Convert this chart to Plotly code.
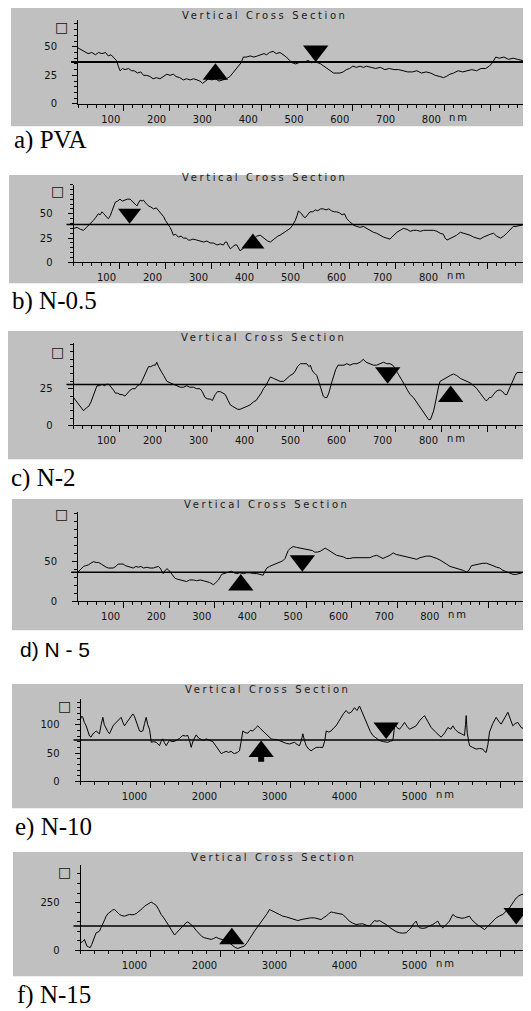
import plotly.graph_objects as go

# target picture size and browser body margin
W, H = 531, 1011
OFF = 8
FW, FH = W - OFF, H - OFF

# ---------------- data (nm, height nm) ----------------
pva = [(0,49),(8,47),(15,46),(22,44),(30,45),(38,43),(45,45),(52,44),(60,45),(66,42),(72,43),(78,40),(84,38),
       (88,33),(92,29),(97,31),(103,30),(110,31),(117,29),(123,29),(130,27),(137,28),(143,25),(150,25),(157,24),
       (164,22),(171,23),(179,22),(186,24),(194,26),(201,25),(208,26),(214,24),(222,23),(230,21),(237,22),(245,21),
       (252,22),(260,21),(266,20),(272,18),(278,20),(285,22),(292,21),(300,22),(308,20),(316,21),(324,22),(332,24),
       (338,27),(344,30),(350,32),(356,36),(361,41),(368,41),(376,42),(384,41),(392,42),(400,43),(406,44),(412,43),
       (418,45),(426,46),(433,44),(441,45),(448,43),(455,41),(462,38),(468,36),(475,35),(482,36),(489,37),(496,37),
       (503,38),(510,36),(517,37),(524,36),(530,35),(537,33),(544,31),(551,29),(558,27),(565,27),(572,27),(579,28),
       (586,30),(593,31),(600,33),(608,32),(616,33),(623,32),(630,33),(640,32),(650,31),(660,32),(670,30),(680,31),
       (690,30),(700,30),(710,29),(720,28),(730,28),(740,29),(750,27),(760,28),(770,27),(780,25),(790,24),(798,23),
       (804,24),(812,26),(820,27),(830,29),(840,28),(850,29),(860,30),(870,29),(880,31),(890,31),(898,33),(905,36),
       (912,41),(920,40),(930,41),(940,39),(950,40),(960,39),(970,38),(980,40),(990,39)]

n05 = [(0,35),(8,36),(15,34),(22,33),(28,36),(33,38),(38,40),(43,43),(48,46),(54,50),(58,49),(62,52),(66,50),
       (69,48),(73,46),(76,45),(80,48),(83,52),(87,57),(91,62),(96,63),(101,65),(106,63),(112,64),(117,65),(123,65),
       (127,63),(130,62),(134,60),(138,58),(141,61),(145,64),(149,63),(152,64),(157,61),(163,58),(168,57),(174,55),
       (180,56),(185,53),(190,50),(196,47),(200,43),(203,41),(207,38),(210,36),(214,32),(217,28),(222,29),(228,26),
       (234,27),(239,25),(245,25),(250,23),(254,23),(260,24),(268,23),(275,22),(283,21),(290,22),(297,20),(304,20),
       (312,18),(319,19),(326,18),(330,21),(333,21),(337,17),(341,14),(346,16),(351,18),(355,18),(358,15),(362,12),
       (368,14),(373,16),(377,16),(384,20),(391,24),(398,27),(406,28),(411,26),(417,24),(422,22),(428,21),(433,23),
       (438,25),(444,27),(449,28),(455,30),(460,31),(466,33),(471,35),(476,38),(482,43),(486,48),(489,53),(493,51),
       (496,50),(500,47),(504,46),(509,49),(514,52),(520,52),(526,54),(531,53),(537,55),(543,55),(549,54),(555,55),
       (561,53),(567,52),(572,52),(578,51),(584,49),(589,50),(594,45),(600,42),(605,40),(610,38),(616,37),(623,36),
       (630,37),(637,35),(645,33),(652,31),(659,30),(666,28),(674,26),(681,25),(688,24),(692,26),(696,28),(703,31),
       (710,33),(717,35),(725,34),(732,32),(739,33),(746,33),(754,32),(761,33),(769,33),(776,33),(783,33),(790,32),
       (797,30),(804,29),(808,25),(812,23),(817,24),(822,25),(826,26),(833,28),(841,31),(848,30),(855,29),(862,28),
       (870,26),(877,25),(884,24),(891,26),(899,28),(906,29),(913,30),(920,27),(928,25),(935,27),(942,30),(950,34),
       (956,37),(962,37),(971,38),(980,39),(990,39)]

n2 = [(0,19),(5,17),(11,14),(16,12),(22,10),(28,12),(33,13),(38,16),(43,20),(47,24),(51,27),(56,27),(62,28),(67,27),
      (72,28),(77,28),(83,26),(87,24),(91,22),(96,22),(101,21),(106,21),(112,20),(117,22),(123,24),(128,25),(134,25),
      (139,27),(145,28),(150,31),(156,35),(160,38),(163,40),(168,40),(174,41),(178,41),(181,43),(185,40),(188,38),
      (192,36),(196,34),(200,32),(203,30),(210,29),(217,28),(224,27),(232,26),(239,26),(246,27),(253,26),(261,26),
      (268,25),(275,25),(280,23),(286,19),(292,18),(297,18),(302,17),(308,21),(313,23),(319,23),(325,22),(330,21),
      (336,17),(341,14),(346,13),(351,12),(357,11),(362,11),(368,12),(377,13),(384,14),(391,16),(397,17),(402,19),
      (408,22),(413,25),(418,27),(423,30),(428,33),(435,32),(442,31),(449,30),(457,30),(464,32),(471,34),(477,35),
      (482,37),(487,40),(493,42),(500,42),(507,42),(512,40),(515,41),(518,38),(522,36),(526,35),(529,34),(533,30),
      (536,27),(540,22),(543,20),(547,19),(551,19),(555,22),(558,26),(562,30),(565,33),(570,38),(575,41),(582,41),
      (588,41),(594,42),(601,41),(608,42),(616,42),(623,43),(630,45),(636,43),(645,42),(652,41),(659,41),(666,42),
      (674,43),(681,42),(688,42),(694,41),(699,39),(704,36),(710,33),(716,30),(721,27),(726,24),(732,21),(739,19),
      (746,16),(752,13),(757,11),(762,9),(768,6),(772,4),(776,4),(780,7),(783,10),(787,16),(790,22),(794,27),
      (797,30),(802,31),(808,32),(812,33),(819,34),(826,35),(833,34),(841,32),(848,31),(855,30),(862,29),(870,27),
      (877,25),(884,22),(891,19),(896,17),(899,17),(904,19),(908,19),(913,21),(918,23),(923,24),(928,24),(933,23),
      (938,21),(942,21),(946,24),(950,27),(953,28),(957,31),(960,34),(964,36),(970,36),(976,36),(985,35),(990,34)]

n5 = [(0,37),(6,40),(12,44),(17,45),(23,46),(28,48),(34,50),(40,49),(45,49),(51,47),(56,45),(62,43),(67,42),(72,42),
      (77,42),(83,44),(88,47),(94,47),(99,47),(104,45),(110,44),(115,43),(121,42),(127,44),(132,43),(138,44),(144,42),
      (151,43),(158,42),(165,42),(170,43),(176,44),(180,42),(184,37),(187,35),(191,39),(195,41),(198,40),(202,37),
      (205,35),(209,31),(213,29),(218,28),(224,27),(231,26),(238,25),(245,27),(253,27),(260,26),(268,27),(275,26),
      (282,25),(288,24),(294,22),(297,21),(301,23),(305,25),(308,27),(312,31),(315,34),(320,35),(326,36),(331,37),
      (337,38),(342,36),(348,35),(355,36),(363,35),(370,36),(377,36),(385,35),(392,35),(399,34),(406,33),(410,38),
      (414,42),(420,44),(428,46),(435,47),(443,49),(449,51),(454,54),(458,59),(461,64),(466,67),(472,69),(479,68),
      (487,67),(494,66),(501,65),(508,64),(514,64),(519,62),(525,62),(531,63),(537,65),(542,67),(548,65),(553,63),
      (560,60),(567,58),(575,57),(582,56),(589,54),(596,54),(603,55),(611,55),(618,55),(625,55),(633,55),(640,55),
      (648,57),(655,58),(662,56),(669,54),(676,56),(684,58),(691,61),(698,59),(706,58),(713,57),(720,56),(728,55),
      (735,54),(743,53),(750,55),(757,56),(764,57),(772,57),(779,56),(787,54),(794,52),(801,50),(808,47),(816,44),
      (823,43),(830,42),(838,40),(845,39),(852,37),(857,39),(863,45),(870,46),(876,46),(881,47),(888,48),(896,48),
      (903,46),(910,45),(918,43),(925,42),(932,39),(940,37),(947,35),(954,34),(961,34),(967,35),(973,36),(980,37),
      (990,37)]

n10 = [(0,110),(20,115),(33,113),(55,104),(81,98),(105,88),(129,80),(150,78),(176,84),(200,86),(224,89),(250,86),
       (271,84),(295,100),(319,113),(340,100),(367,92),(390,88),(414,84),(440,92),(465,98),(486,101),(510,104),
       (533,107),(558,110),(581,113),(605,104),(629,98),(650,102),(676,107),(700,112),(725,116),(748,119),(770,115),
       (795,107),(820,98),(843,89),(865,88),(890,89),(915,102),(938,113),(960,100),(986,92),(1000,80),(1010,69),
       (1045,70),(1081,69),(1105,66),(1129,63),(1150,70),(1176,75),(1200,68),(1224,63),(1248,68),(1271,72),(1320,70),
       (1367,72),(1415,76),(1462,81),(1500,80),(1533,81),(1558,72),(1581,60),(1610,72),(1652,82),(1690,76),(1724,74),
       (1760,72),(1795,75),(1840,72),(1890,70),(1925,64),(1962,57),(1990,52),(2010,49),(2045,51),(2081,53),(2115,51),
       (2152,53),(2180,50),(2200,49),(2240,51),(2271,54),(2295,70),(2319,89),(2350,86),(2390,85),(2425,90),(2462,89),
       (2500,94),(2533,98),(2570,93),(2605,89),(2640,86),(2676,82),(2700,79),(2724,75),(2760,74),(2795,74),(2840,72),
       (2890,69),(2940,67),(2986,66),(3020,68),(3057,69),(3095,65),(3129,63),(3155,72),(3176,84),(3200,72),(3224,63),
       (3260,57),(3295,54),(3330,57),(3367,60),(3415,60),(3462,60),(3490,72),(3510,89),(3545,87),(3581,89),(3615,94),
       (3652,98),(3690,106),(3724,113),(3760,120),(3795,125),(3830,120),(3867,122),(3890,127),(3914,130),(3950,125),
       (3986,133),(4010,126),(4033,119),(4070,110),(4105,98),(4140,88),(4176,81),(4220,76),(4271,72),(4330,70),
       (4390,69),(4430,71),(4462,72),(4480,90),(4490,101),(4520,95),(4557,92),(4590,97),(4629,104),(4665,97),
       (4700,92),(4750,95),(4795,98),(4850,108),(4914,116),(4960,106),(5010,95),(5080,86),(5152,78),(5200,85),
       (5248,95),(5290,92),(5319,98),(5350,92),(5390,87),(5440,84),(5486,81),(5500,100),(5510,116),(5525,85),
       (5557,63),(5600,60),(5652,57),(5700,58),(5748,57),(5770,53),(5795,51),(5820,65),(5843,87),(5890,102),
       (5938,113),(5975,106),(6010,101),(6060,112),(6105,122),(6140,110),(6176,98),(6210,102),(6248,104),(6295,95),
       (6350,92),(6440,95)]

n15 = [(0,40),(30,45),(57,57),(75,40),(90,23),(115,18),(138,14),(160,30),(186,57),(205,75),(224,92),(250,96),
       (271,101),(295,120),(319,144),(345,160),(367,179),(400,195),(438,205),(462,212),(486,214),(520,200),(557,188),
       (590,182),(629,179),(665,184),(700,188),(735,186),(771,188),(805,195),(843,205),(880,218),(914,231),(960,243),
       (1010,253),(1045,245),(1081,236),(1115,215),(1152,188),(1190,170),(1224,153),(1260,130),(1295,109),(1320,92),
       (1343,80),(1380,95),(1414,109),(1450,122),(1486,135),(1510,145),(1533,149),(1570,140),(1605,127),(1650,105),
       (1700,83),(1735,72),(1771,66),(1820,60),(1867,57),(1900,62),(1938,69),(1975,62),(2010,57),(2045,54),(2081,52),
       (2130,38),(2176,23),(2210,15),(2248,10),(2290,14),(2343,23),(2380,40),(2414,57),(2450,80),(2486,101),
       (2520,118),(2557,135),(2595,152),(2629,170),(2665,192),(2700,214),(2750,205),(2795,196),(2840,188),(2890,179),
       (2940,175),(2986,170),(3045,163),(3105,156),(3165,162),(3224,167),(3285,170),(3343,170),(3390,165),(3438,161),
       (3475,172),(3510,179),(3545,192),(3581,201),(3615,198),(3652,196),(3700,192),(3748,188),(3795,170),(3843,153),
       (3890,142),(3938,135),(3985,138),(4033,139),(4080,132),(4129,127),(4165,142),(4200,156),(4235,152),(4271,156),
       (4320,145),(4367,135),(4415,120),(4462,109),(4510,98),(4557,92),(4600,90),(4652,92),(4690,105),(4724,118),
       (4760,140),(4795,153),(4820,130),(4843,118),(4890,115),(4938,118),(4985,128),(5033,135),(5070,145),(5105,153),
       (5140,130),(5176,118),(5225,135),(5271,153),(5300,175),(5319,188),(5365,175),(5414,170),(5450,168),(5486,170),
       (5520,176),(5557,179),(5590,160),(5629,144),(5665,135),(5700,127),(5735,118),(5771,109),(5810,122),(5843,135),
       (5890,155),(5938,170),(5985,180),(6033,188),(6080,205),(6129,222),(6175,248),(6224,274),(6260,285),(6295,292),
       (6440,300)]

profiles = [pva, n05, n2, n5, n10, n15]
ref_levels = [36.7, 39.0, 27.9, 36.6, 73.0, 127.0]
up_marks = [(300, 25.9), (390, 19.4), (820, 19.7), (357, 20.8), (2581, 52.6), (2162, 61.0)]
down_marks = [(519, 46.3), (122, 50.0), (683, 35.8), (492, 51.0), (4367, 94.0), (6224, 193.0)]
stem_marks = [None, None, None, None, (2581, 40.0), None]

y_major = [[0, 25, 50], [0, 25, 50], [0, 25], [0, 50], [0, 50, 100], [0, 250]]
y_minor = [5, 5, 5, 10, 10, 50]
x_major_small = [100, 200, 300, 400, 500, 600, 700, 800, 900]
x_text_small = ["100", "200", "300", "400", "500", "600", "700", "800", ""]
x_major_big = [1000, 2000, 3000, 4000, 5000, 6000]
x_text_big = ["1000", "2000", "3000", "4000", "5000", ""]
unit_marks = [67.4, 73.8, 50.0, 110.0, 133.0, 411.0]
panel_labels = ["a) PVA", "b) N-0.5", "c) N-2", "d) N - 5", "e) N-10", "f) N-15"]
title_text = "Vertical Cross Section"
unit_text = "\u25a1"
x_unit = "nm"

# ---------------- geometry (pixels in the 531x1011 picture) ----------------
geom = [
    dict(ax=78.0, pxnm=0.458, py0=104.5, pyu=1.15, ymax=73, box=(11, 7, 127), tx=265, ty=16, lx=12, ly=141, big=False),
    dict(ax=73.5, pxnm=0.460, py0=264.0, pyu=0.98, ymax=80, box=(9, 176, 285), tx=265, ty=179, lx=10, ly=303, big=False),
    dict(ax=73.5, pxnm=0.460, py0=428.0, pyu=1.48, ymax=56, box=(8, 333, 462), tx=264, ty=339, lx=9, ly=481, big=False),
    dict(ax=78.0, pxnm=0.456, py0=605.0, pyu=0.80, ymax=112, box=(12, 502, 634), tx=267, ty=507, lx=18, ly=653, big=False),
    dict(ax=80.5, pxnm=0.070, py0=786.0, pyu=0.57, ymax=146, box=(12, 688, 813), tx=268, ty=694, lx=13, ly=832, big=True),
    dict(ax=80.5, pxnm=0.070, py0=956.0, pyu=0.192, ymax=448, box=(13, 857, 982), tx=274, ty=863, lx=15, ly=1001, big=True),
]


def px_x(px):
    return max(0.0, (px - OFF) / FW)


def px_y(py):
    return min(1.0, 1 - (py - OFF) / FH)


TICKFONT = dict(family="DejaVu Sans, Verdana, sans-serif", size=10, color="#111111")
SERIF = "Liberation Serif, Times New Roman, serif"
SANS = "Liberation Sans, Arial, sans-serif"

fig = go.Figure()
shapes, annotations = [], []
layout_axes = {}

for i, g in enumerate(geom):
    n = i + 1
    xs = "" if n == 1 else str(n)
    xname, yname = "x" + xs, "y" + xs
    pts = profiles[i]
    fig.add_trace(go.Scatter(x=[p[0] for p in pts], y=[p[1] for p in pts], mode="lines",
                             line=dict(color="black", width=1), xaxis=xname, yaxis=yname,
                             showlegend=False, hoverinfo="skip"))
    msize = 20 if i == 1 else 22
    fig.add_trace(go.Scatter(x=[up_marks[i][0]], y=[up_marks[i][1]], mode="markers",
                             marker=dict(symbol="triangle-up", size=msize, color="black"),
                             xaxis=xname, yaxis=yname, showlegend=False, hoverinfo="skip"))
    fig.add_trace(go.Scatter(x=[down_marks[i][0]], y=[down_marks[i][1]], mode="markers",
                             marker=dict(symbol="triangle-down", size=msize, color="black"),
                             xaxis=xname, yaxis=yname, showlegend=False, hoverinfo="skip"))
    if stem_marks[i] is not None:
        fig.add_trace(go.Scatter(x=[stem_marks[i][0]], y=[stem_marks[i][1]], mode="markers",
                                 marker=dict(symbol="square", size=6, color="black"),
                                 xaxis=xname, yaxis=yname, showlegend=False, hoverinfo="skip"))

    xr = (W - g["ax"]) / g["pxnm"]
    ytop_px = g["py0"] - g["ymax"] * g["pyu"]
    if g["big"]:
        tv, tt, mdt, shift = x_major_big, x_text_big, 200, -16
        unit_at = 5000
    else:
        tv, tt, mdt, shift = x_major_small, x_text_small, 20, -13
        unit_at = 800
    layout_axes["xaxis" + xs] = dict(
        domain=[px_x(g["ax"]), 1.0], range=[0, xr], anchor=yname, showline=True, linecolor="black",
        linewidth=1, showgrid=False, zeroline=False, ticks="outside", ticklen=6, tickwidth=1,
        tickcolor="black", tickmode="array", tickvals=tv, ticktext=tt, tickfont=TICKFONT,
        ticklabelshift=shift, fixedrange=True,
        minor=dict(ticks="outside", ticklen=3, tickwidth=1, tickcolor="black", dtick=mdt, tick0=0, showgrid=False))
    layout_axes["yaxis" + xs] = dict(
        domain=[px_y(g["py0"]), px_y(ytop_px)], range=[0, g["ymax"]], anchor=xname, showline=True,
        linecolor="black", linewidth=1, showgrid=False, zeroline=False, ticks="outside", ticklen=5,
        tickwidth=1, tickcolor="black", tickmode="array", tickvals=y_major[i],
        ticktext=[str(v) for v in y_major[i]], tickfont=TICKFONT, ticklabelstandoff=13, fixedrange=True,
        minor=dict(ticks="outside", ticklen=3, tickwidth=1, tickcolor="black", dtick=y_minor[i], tick0=0, showgrid=False))

    bx0, by0, by1 = g["box"]
    shapes.append(dict(type="rect", xref="paper", yref="paper", x0=px_x(bx0), x1=1.0,
                       y0=px_y(by1), y1=px_y(by0), fillcolor="#c0c0c0", line=dict(width=0), layer="below"))
    shapes.append(dict(type="line", xref=xname + " domain", yref=yname, x0=-7 / (W - g["ax"]), x1=1.0,
                       y0=ref_levels[i], y1=ref_levels[i],
                       line=dict(color="black", width=2 if i == 0 else 1.5), layer="above"))

    annotations.append(dict(xref="paper", yref="paper", x=px_x(g["tx"]), y=px_y(g["ty"]),
                            text='<span style="letter-spacing:2.6px">' + title_text + '</span>',
                            showarrow=False, xanchor="center", yanchor="middle",
                            font=dict(family="DejaVu Sans, Verdana, sans-serif", size=10, color="#1a1a1a")))
    annotations.append(dict(xref=xname + " domain", yref=yname, x=0, y=unit_marks[i], xshift=-8,
                            text=unit_text, showarrow=False, xanchor="right", yanchor="middle",
                            font=dict(family="DejaVu Sans, sans-serif", size=14, color="#111111")))
    annotations.append(dict(xref=xname, yref=yname + " domain", x=unit_at, y=0, xshift=3, yshift=-13.5,
                            text='<span style="letter-spacing:2px">' + x_unit + '</span>',
                            showarrow=False, xanchor="left", yanchor="middle", font=TICKFONT))
    annotations.append(dict(xref="paper", yref="paper", x=px_x(g["lx"]), y=px_y(g["ly"]),
                            text=panel_labels[i], showarrow=False, xanchor="left", yanchor="middle",
                            font=dict(family=SANS if i == 3 else SERIF, size=21 if i == 3 else 25, color="black")))

fig.update_layout(width=FW, height=FH, autosize=False, margin=dict(l=0, r=0, t=0, b=0, pad=0),
                  paper_bgcolor="white", plot_bgcolor="rgba(0,0,0,0)", showlegend=False,
                  shapes=shapes, annotations=annotations, **layout_axes)

fig.write_html("out.html", config={"displayModeBar": False})
